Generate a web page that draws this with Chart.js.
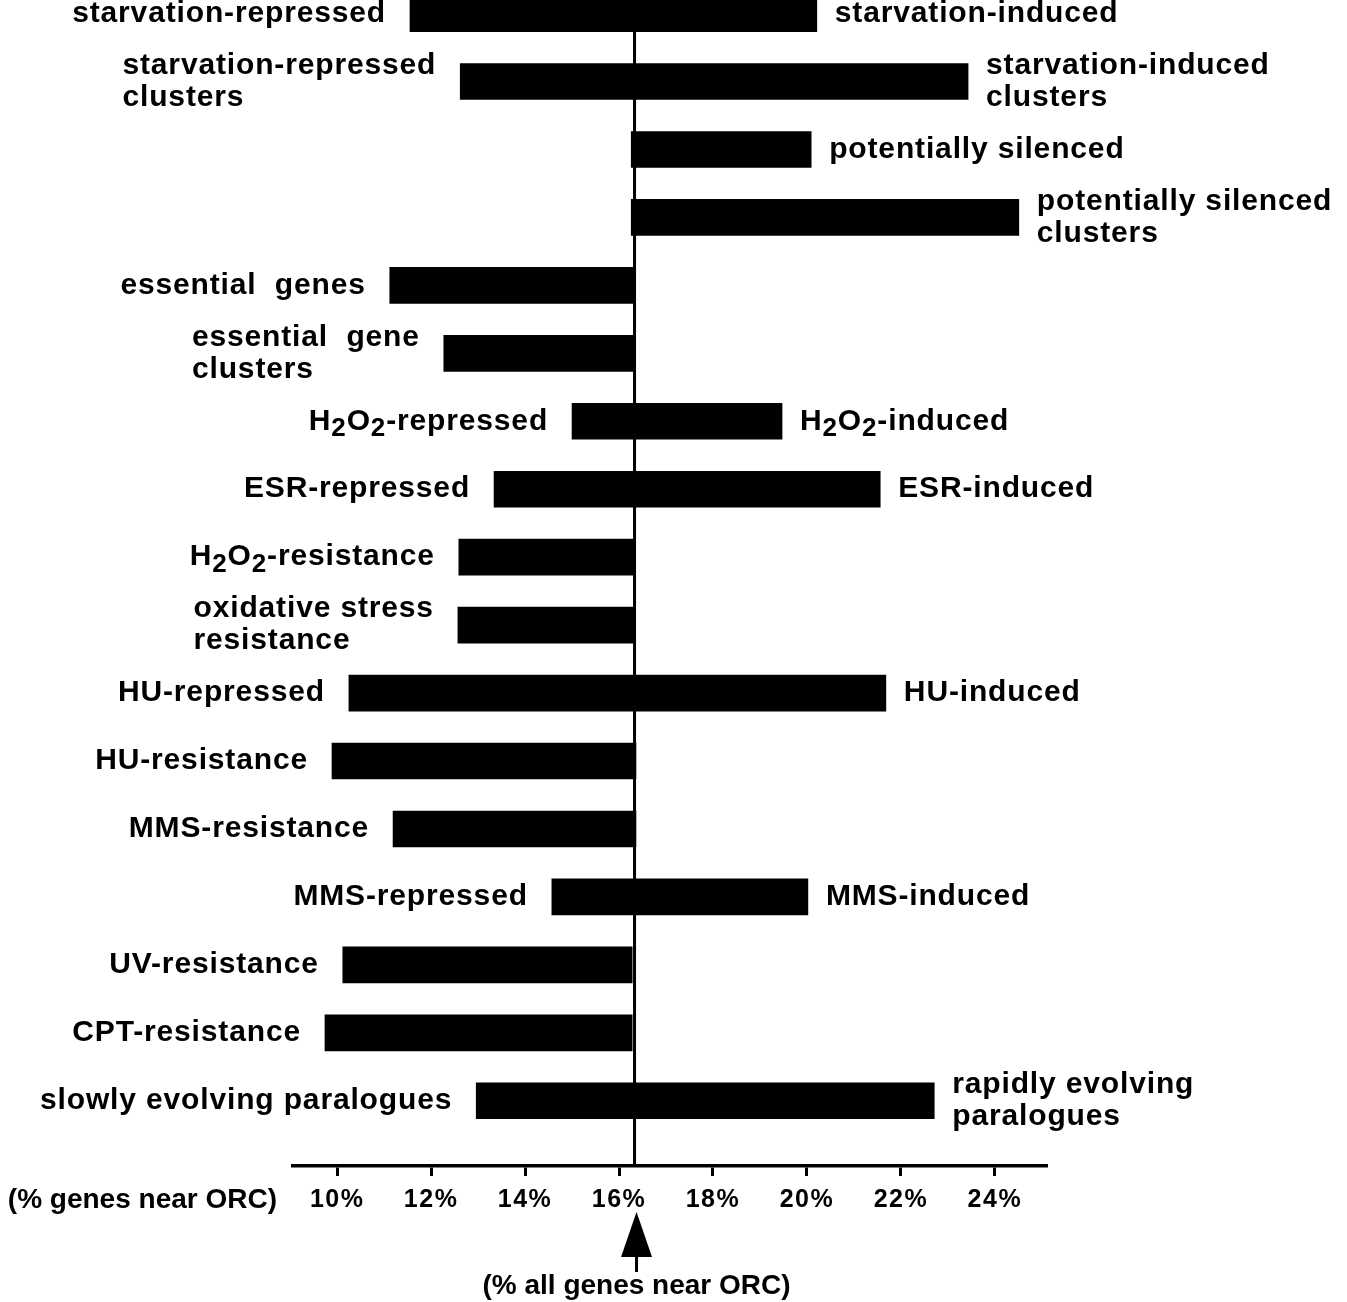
<!DOCTYPE html>
<html>
<head>
<meta charset="utf-8">
<title>Genes near ORC</title>
<script src="https://cdn.jsdelivr.net/npm/chart.js@4/dist/chart.umd.min.js"></script>
<style>
  body { margin: 0; background: #fff; }
  #wrap { width: 1347px; height: 1302px; position: relative; }
</style>
</head>
<body>
<div id="wrap"><canvas id="orcChart"></canvas></div>
<script>
// rows top to bottom; '_2' means a subscript 2
const leftLabels = [
    ['starvation-repressed'],
    ['starvation-repressed', 'clusters'],
    [],
    [],
    ['essential  genes'],
    ['essential  gene', 'clusters'],
    ['H_2O_2-repressed'],
    ['ESR-repressed'],
    ['H_2O_2-resistance'],
    ['oxidative stress', 'resistance'],
    ['HU-repressed'],
    ['HU-resistance'],
    ['MMS-resistance'],
    ['MMS-repressed'],
    ['UV-resistance'],
    ['CPT-resistance'],
    ['slowly evolving paralogues']
];
const rightLabels = [
    ['starvation-induced'],
    ['starvation-induced', 'clusters'],
    ['potentially silenced'],
    ['potentially silenced', 'clusters'],
    [],
    [],
    ['H_2O_2-induced'],
    ['ESR-induced'],
    [],
    [],
    ['HU-induced'],
    [],
    [],
    ['MMS-induced'],
    [],
    [],
    ['rapidly evolving', 'paralogues']
];

// left and right ends of each bar (% genes near ORC)
const lows  = [11.55, 12.62, 16.26, 16.26, 11.12, 12.27, 15.00, 13.34, 12.59, 12.57, 10.25, 9.89, 11.19, 14.57, 10.12, 9.74, 12.96];
const highs = [20.21, 23.43, 20.09, 24.51, 16.30, 16.30, 19.47, 21.56, 16.32, 16.32, 21.68, 16.36, 16.36, 20.02, 16.28, 16.28, 22.71];

const tickValues = [10, 12, 14, 16, 18, 20, 22, 24];
const allGenesPct = 16.33;
const axisTitle = '(% genes near ORC)';
const arrowTitle = '(% all genes near ORC)';

const FONT = "'Liberation Sans', Arial, Helvetica, sans-serif";

// draws (or just measures) a label with '_x' subscripts, returns width
function richText(ctx, text, x, y, draw) {
    let cx = x;
    let i = 0;
    while (i < text.length) {
        if (text[i] === '_') {
            ctx.font = 'bold 26px ' + FONT;
            if (draw) ctx.fillText(text[i + 1], cx, y + 8);
            cx += ctx.measureText(text[i + 1]).width;
            i += 2;
        } else {
            let j = text.indexOf('_', i);
            if (j < 0) j = text.length;
            const s = text.slice(i, j);
            ctx.font = 'bold 30px ' + FONT;
            if (draw) ctx.fillText(s, cx, y);
            cx += ctx.measureText(s).width;
            i = j;
        }
    }
    return cx - x;
}

function drawBlock(ctx, lines, x, yc, alignRight) {
    if (!lines.length) return;
    const lineH = 32;
    const w = Math.max(...lines.map(l => richText(ctx, l, 0, 0, false)));
    const x0 = alignRight ? x - w : x;
    lines.forEach((l, k) => {
        richText(ctx, l, x0, yc + (k - (lines.length - 1) / 2) * lineH, true);
    });
}

const orcLabels = {
    id: 'orcLabels',
    beforeDraw(chart) {
        chart.ctx.letterSpacing = '1.5px'; // tick labels
    },
    beforeDatasetsDraw(chart) {
        const ctx = chart.ctx;
        const xs = chart.scales.x, ys = chart.scales.y;
        ctx.letterSpacing = '0px';
        const px = xs.getPixelForValue(allGenesPct);
        ctx.save();
        ctx.strokeStyle = '#000';
        ctx.lineWidth = 3;
        ctx.beginPath();
        ctx.moveTo(px, ys.getPixelForValue(0));
        ctx.lineTo(px, chart.chartArea.bottom);
        ctx.stroke();
        ctx.restore();
    },
    afterDatasetsDraw(chart) {
        const ctx = chart.ctx;
        const xs = chart.scales.x, ys = chart.scales.y;
        ctx.save();
        ctx.fillStyle = '#000';
        ctx.textBaseline = 'middle';
        ctx.textAlign = 'left';
        ctx.letterSpacing = '0.85px';
        for (let i = 0; i < lows.length; i++) {
            const yc = ys.getPixelForValue(i);
            drawBlock(ctx, leftLabels[i], xs.getPixelForValue(lows[i]) - 24, yc, true);
            drawBlock(ctx, rightLabels[i], xs.getPixelForValue(highs[i]) + 18, yc, false);
        }

        // axis caption and arrow for the all-genes value
        const bottom = chart.chartArea.bottom;
        ctx.letterSpacing = '0px';
        ctx.font = 'bold 28px ' + FONT;
        ctx.textAlign = 'right';
        ctx.fillText(axisTitle, chart.chartArea.left - 16, bottom + 34);

        const ax = xs.getPixelForValue(allGenesPct) + 2;
        ctx.beginPath();
        ctx.moveTo(ax, bottom + 46);
        ctx.lineTo(ax - 15.5, bottom + 91);
        ctx.lineTo(ax + 15.5, bottom + 91);
        ctx.closePath();
        ctx.fill();
        ctx.fillRect(ax - 1.5, bottom + 90, 3, 16);
        ctx.textAlign = 'center';
        ctx.fillText(arrowTitle, ax, bottom + 120);
        ctx.restore();
    }
};

const ctx = document.getElementById('orcChart').getContext('2d');
new Chart(ctx, {
    type: 'bar',
    data: {
        datasets: [{
            data: lows.map((lo, i) => ({ x: [lo, highs[i]], y: i })),
            backgroundColor: '#000',
            borderWidth: 0,
            barThickness: 36
        }]
    },
    options: {
        indexAxis: 'y',
        responsive: true,
        maintainAspectRatio: false,
        animation: false,
        layout: { padding: { left: 293, right: 300, top: 0, bottom: 78 } },
        plugins: {
            legend: { display: false },
            tooltip: { enabled: false }
        },
        scales: {
            x: {
                type: 'linear',
                min: 9.06,
                max: 25.11,
                afterBuildTicks: axis => {
                    axis.ticks = tickValues.map(v => ({ value: v }));
                },
                ticks: {
                    color: '#000',
                    padding: 9,
                    maxRotation: 0,
                    font: { family: FONT, size: 25, weight: 'bold' },
                    callback: v => v + '%'
                },
                grid: {
                    display: true,
                    drawOnChartArea: false,
                    drawTicks: true,
                    tickLength: 10,
                    tickWidth: 3,
                    tickColor: '#000'
                },
                border: { display: true, color: '#000', width: 3.5 }
            },
            y: {
                type: 'linear',
                reverse: true,
                offset: false,
                min: -0.2,
                max: 16.96,
                display: false
            }
        }
    },
    plugins: [orcLabels]
});
</script>
</body>
</html>
